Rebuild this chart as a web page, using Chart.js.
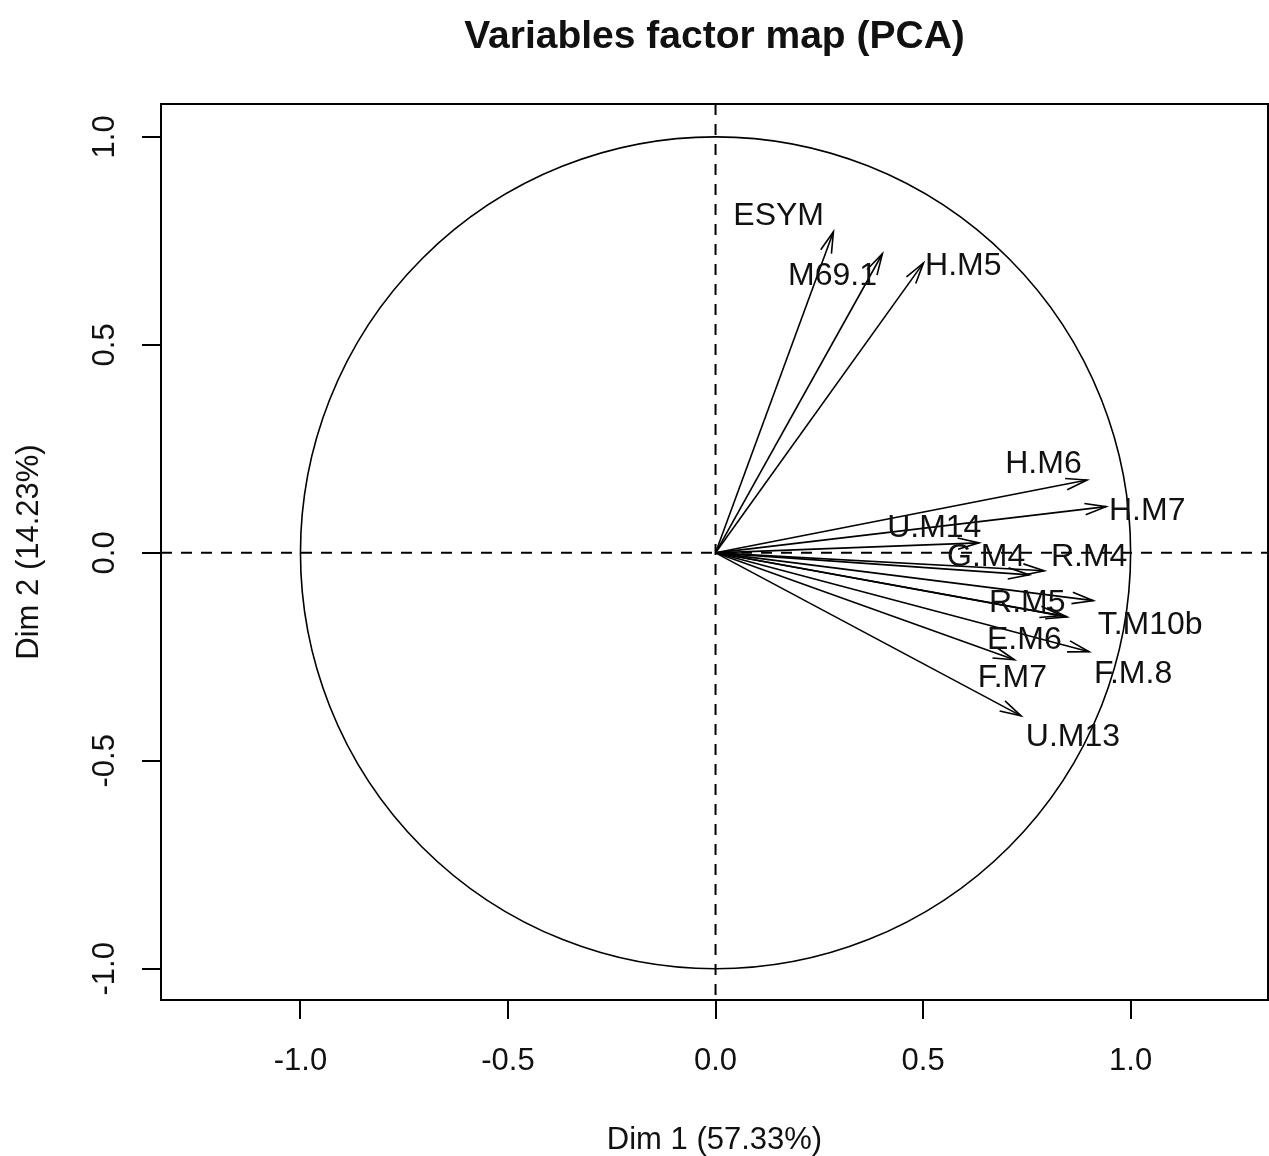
<!DOCTYPE html>
<html>
<head>
<meta charset="utf-8">
<title>Variables factor map (PCA)</title>
<script src="https://cdn.jsdelivr.net/npm/chart.js@4.4.1/dist/chart.umd.min.js"></script>
<style>
  html, body { margin: 0; padding: 0; background: #fff; }
  canvas { display: block; }
</style>
</head>
<body>
<canvas id="pca" width="1269" height="1156"></canvas>
<script>
// variable coordinates on the first two dimensions
const varNames = ['ESYM', 'M69.1', 'H.M5', 'H.M6', 'H.M7', 'U.M14', 'G.M4', 'R.M4',
                  'R.M5', 'T.M10b', 'E.M6', 'F.M.8', 'F.M7', 'U.M13'];
const dim1 = [0.284, 0.402, 0.501, 0.895, 0.941, 0.635, 0.756, 0.792,
              0.847, 0.910, 0.833, 0.900, 0.720, 0.736];
const dim2 = [0.772, 0.719, 0.697, 0.175, 0.111, 0.024, -0.053, -0.043,
              -0.154, -0.115, -0.151, -0.238, -0.257, -0.392];
// where each name sits (data units, as placed by autoLab)
const labelDim1 = [0.152, 0.282, 0.597, 0.790, 1.040, 0.527, 0.652, 0.900,
                   0.751, 1.047, 0.744, 1.006, 0.715, 0.861];
const labelDim2 = [0.810, 0.666, 0.690, 0.212, 0.099, 0.060, -0.010, -0.010,
                   -0.120, -0.173, -0.209, -0.291, -0.301, -0.442];

const xTicks = [-1, -0.5, 0, 0.5, 1];
const yTicks = [-1, -0.5, 0, 0.5, 1];
const xTitle = 'Dim 1 (57.33%)';
const yTitle = 'Dim 2 (14.23%)';
const mainTitle = 'Variables factor map (PCA)';

const FONT = '"Liberation Sans", Arial, Helvetica, sans-serif';
const INK = '#111';

// unit circle + dashed axes through 0, behind the arrows
const backdrop = {
    id: 'backdrop',
    beforeDatasetsDraw(chart) {
        const { ctx, chartArea: a, scales: { x, y } } = chart;
        const x0 = x.getPixelForValue(0), y0 = y.getPixelForValue(0);
        ctx.save();
        ctx.beginPath();
        ctx.rect(a.left, a.top, a.right - a.left, a.bottom - a.top);
        ctx.clip();
        ctx.strokeStyle = '#000';
        ctx.lineWidth = 1.6;
        ctx.beginPath();
        ctx.ellipse(x0, y0, x.getPixelForValue(1) - x0, y0 - y.getPixelForValue(1), 0, 0, Math.PI * 2);
        ctx.stroke();
        ctx.setLineDash([11, 9]);
        ctx.lineWidth = 2;
        ctx.beginPath();
        ctx.moveTo(x0, a.top); ctx.lineTo(x0, a.bottom);
        ctx.moveTo(a.left, y0); ctx.lineTo(a.right, y0);
        ctx.stroke();
        ctx.restore();
    }
};

// arrow heads, names and the box
const decor = {
    id: 'decor',
    afterDatasetsDraw(chart) {
        const { ctx, chartArea: a, scales: { x, y } } = chart;
        const x0 = x.getPixelForValue(0), y0 = y.getPixelForValue(0);
        ctx.save();
        ctx.strokeStyle = '#000';
        ctx.lineWidth = 1.6;
        const len = 22, ang = 15 * Math.PI / 180;
        dim1.forEach((v, i) => {
            const px = x.getPixelForValue(v), py = y.getPixelForValue(dim2[i]);
            const t = Math.atan2(py - y0, px - x0);
            ctx.beginPath();
            ctx.moveTo(px - len * Math.cos(t - ang), py - len * Math.sin(t - ang));
            ctx.lineTo(px, py);
            ctx.lineTo(px - len * Math.cos(t + ang), py - len * Math.sin(t + ang));
            ctx.stroke();
        });
        ctx.fillStyle = INK;
        ctx.font = '32px ' + FONT;
        ctx.textAlign = 'center';
        ctx.textBaseline = 'middle';
        varNames.forEach((name, i) => {
            ctx.fillText(name, x.getPixelForValue(labelDim1[i]), y.getPixelForValue(labelDim2[i]));
        });
        ctx.lineWidth = 2;
        ctx.strokeRect(a.left, a.top, a.right - a.left, a.bottom - a.top);
        ctx.restore();
    }
};

const datasets = varNames.map((name, i) => ({
    label: name,
    data: [{ x: 0, y: 0 }, { x: dim1[i], y: dim2[i] }],
    borderColor: '#000',
    borderWidth: 1.6,
    pointRadius: 0,
    fill: false,
    tension: 0,
}));

new Chart(document.getElementById('pca'), {
    type: 'line',
    data: { datasets },
    plugins: [backdrop, decor],
    options: {
        responsive: false,
        animation: false,
        devicePixelRatio: 1,
        layout: { padding: { left: 0, top: 0, right: 1, bottom: 0 } },
        plugins: {
            legend: { display: false },
            tooltip: { enabled: false },
            title: {
                display: true,
                fullSize: false,
                text: mainTitle,
                color: INK,
                font: { family: FONT, size: 39, weight: 'bold', lineHeight: 1 },
                padding: { top: 18, bottom: 47 },
            },
        },
        scales: {
            x: {
                type: 'linear',
                position: 'bottom',
                min: -1.336,
                max: 1.331,
                afterBuildTicks: s => { s.ticks = xTicks.map(v => ({ value: v })); },
                afterFit: s => { s.height = 156; },
                grid: { display: true, drawOnChartArea: false, drawTicks: true, tickLength: 19, color: '#000', lineWidth: 2 },
                border: { display: true, color: '#000', width: 2 },
                ticks: {
                    color: INK,
                    font: { family: FONT, size: 31, lineHeight: 1 },
                    padding: 27,
                    maxRotation: 0,
                    callback: v => v.toFixed(1),
                },
                title: {
                    display: true,
                    text: xTitle,
                    color: INK,
                    font: { family: FONT, size: 31, lineHeight: 1 },
                    padding: { top: 0, bottom: 0 },
                },
            },
            y: {
                type: 'linear',
                position: 'left',
                min: -1.075,
                max: 1.079,
                afterBuildTicks: s => { s.ticks = yTicks.map(v => ({ value: v })); },
                afterFit: s => { s.width = 161; },
                grid: { display: true, drawOnChartArea: false, drawTicks: true, tickLength: 19, color: '#000', lineWidth: 2 },
                border: { display: true, color: '#000', width: 2 },
                ticks: {
                    color: INK,
                    font: { family: FONT, size: 31, lineHeight: 1 },
                    padding: 10,
                    minRotation: 90,
                    maxRotation: 90,
                    crossAlign: 'center',
                    callback: v => v.toFixed(1),
                },
                title: {
                    display: true,
                    text: yTitle,
                    color: INK,
                    font: { family: FONT, size: 31, lineHeight: 1 },
                    padding: { top: 14, bottom: 0 },
                },
            },
        },
    },
});
</script>
</body>
</html>
